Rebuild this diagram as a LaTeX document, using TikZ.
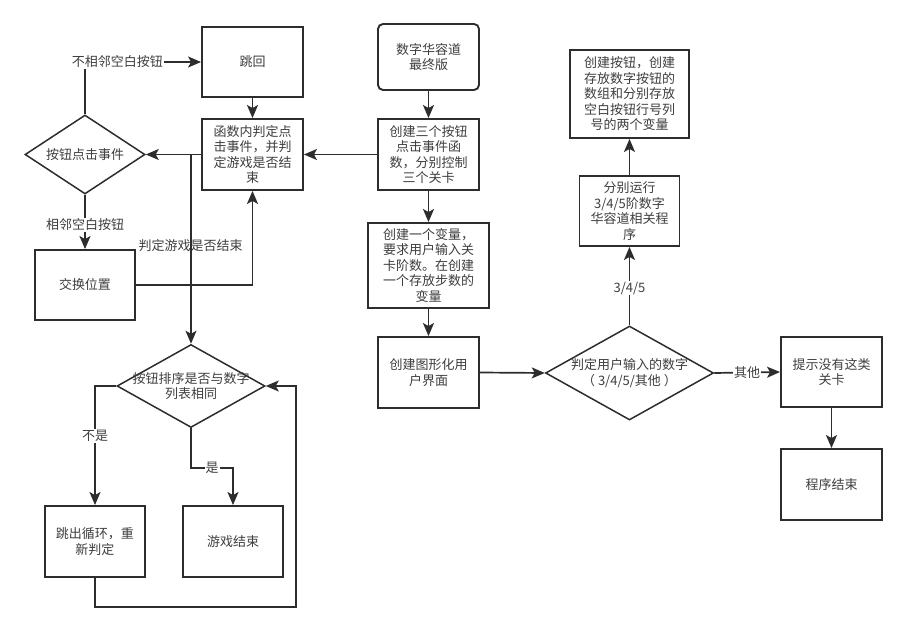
\documentclass[tikz,border=0pt]{standalone}
\usepackage{fontspec}
\setmainfont{Noto Sans CJK SC}
\usepackage{tikz}
\usetikzlibrary{shapes.geometric, arrows.meta, positioning, calc}
\definecolor{mydark}{RGB}{45,45,45}
\definecolor{mytext}{RGB}{62,62,62}
\tikzset{
  block/.style={rectangle, draw=mydark, fill=white, text=mytext,
    align=center, minimum width=101pt, minimum height=71pt,
    font=\fontsize{13}{15.5}\selectfont, line width=1.9pt, inner sep=2pt},
  startblock/.style={block, rounded corners=5pt},
  decision/.style={diamond, draw=mydark, fill=white, line width=1.5pt, inner sep=0pt},
  dtext/.style={text=mytext, align=center, font=\fontsize{13}{15.5}\selectfont},
  arrow/.style={-{Stealth[length=13pt,width=11pt,inset=3pt]}, line width=1.7pt, color=mydark},
  line/.style={line width=1.7pt, color=mydark},
  lbl/.style={fill=white, text=mytext, font=\fontsize{13}{15.5}\selectfont, inner sep=1pt}
}

\begin{document}
\begin{tikzpicture}[x=1pt, y=-1pt]
  \useasboundingbox (0,0) rectangle (906,631);

  % Main column
  \node[startblock, minimum height=66pt] (start) at (428.5,57) {数字华容道\\最终版};
  \node[block] (three) at (428.5,154.5) {创建三个按钮\\点击事件函\\数，分别控制\\三个关卡};
  \node[block, minimum width=121pt, minimum height=85pt] (ask) at (428.5,265.5) {创建一个变量，\\要求用户输入关\\卡阶数。在创建\\一个存放步数的\\变量};
  \node[block] (gui) at (428.5,372.5) {创建图形化用\\户界面};

  % Level choice
  \node[decision, minimum width=168pt, minimum height=94pt,
    label={[dtext]center:{判定用户输入的数字\\（\hspace{3pt}3/4/5/其他\hspace{3pt}）}}] (judge) at (629.5,373) {};
  \node[block, minimum width=100pt, minimum height=70pt] (run) at (629.5,211) {分别运行\\3/4/5阶数字\\华容道相关程\\序};
  \node[block, minimum width=119pt, minimum height=88pt] (mk) at (629.5,94) {创建按钮，创建\\存放数字按钮的\\数组和分别存放\\空白按钮行号列\\号的两个变量};
  \node[block, minimum height=70pt] (hint) at (831.5,372) {提示没有这类\\关卡};
  \node[block] (fin) at (831.5,484.5) {程序结束};

  % Click handling
  \node[block, minimum height=70pt] (back) at (252.5,62) {跳回};
  \node[block] (fn) at (252.5,154.5) {函数内判定点\\击事件，并判\\定游戏是否结\\束};
  \node[decision, minimum width=120pt, minimum height=79pt,
    label={[dtext]center:按钮点击事件}] (btn) at (85,154.5) {};
  \node[block, minimum width=100pt, minimum height=70pt] (swap) at (85,285) {交换位置};

  % End check
  \node[decision, minimum width=148pt, minimum height=83pt,
    label={[dtext]center:{按钮排序是否与数字\\列表相同}}] (cmp) at (191,386) {};
  \node[block, minimum width=100pt] (quit) at (95,541.5) {跳出循环，重\\新判定};
  \node[block, minimum width=100pt] (over) at (233,541.5) {游戏结束};

  % Connections
  \draw[arrow] (start) -- (three);
  \draw[arrow] (three) -- (ask);
  \draw[arrow] (ask) -- (gui);
  \draw[arrow] (gui.east) -- (judge.west);
  \draw[arrow] (judge.north) -- node[lbl, pos=0.475] {3/4/5} (run.south);
  \draw[arrow] (run) -- (mk);
  \draw[arrow] (judge.east) -- node[lbl] {其他} (hint.west);
  \draw[arrow] (hint) -- (fin);
  \draw[arrow] (three.west) -- (fn.east);
  \draw[arrow] (fn.west) -- (btn.east);
  \draw[arrow] (back) -- (fn);
  \draw[arrow] (btn.north) |- node[lbl, pos=0.64] {不相邻空白按钮} (back.west);
  \draw[arrow] (btn.south) -- node[lbl, pos=0.55] {相邻空白按钮} (swap.north);
  \draw[arrow] (swap.east) -| node[lbl, pos=0.235, yshift=39pt] {判定游戏是否结束} (fn.south);
  \draw[arrow] (fn.west -| cmp.north) -- (cmp.north);
  \draw[arrow] (cmp.west) -| node[lbl, pos=0.71] {不是} (quit.north);
  \draw[arrow] (cmp.south) -- ++(0,40) -| node[lbl, pos=0.25] {是} (over.north);
  \draw[arrow] (quit.south) -- ++(0,29) -| ([xshift=30pt]cmp.east) -- (cmp.east);

\end{tikzpicture}
\end{document}
